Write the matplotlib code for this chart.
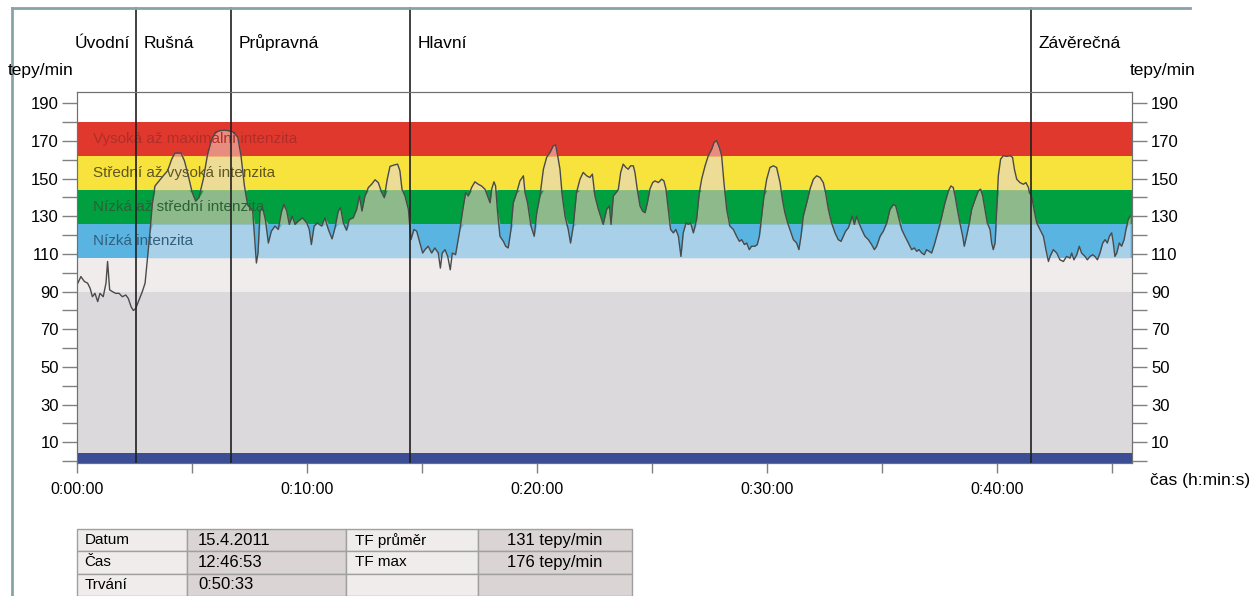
import numpy as np
import matplotlib.pyplot as plt
from matplotlib.ticker import FixedLocator, FuncFormatter
from matplotlib.lines import Line2D

plt.rcParams['font.family'] = ['Liberation Sans', 'DejaVu Sans']

# heart rate record, time in minutes
minutes = [0.0, 0.17, 0.32, 0.46, 0.57, 0.67, 0.78, 0.90, 1.00, 1.14, 1.26, 1.33, 1.42, 1.54, 1.68, 1.83,
           1.97, 2.12, 2.23, 2.35, 2.45, 2.55, 2.67, 2.84, 2.96, 3.07, 3.17, 3.28, 3.39, 3.57, 3.75, 3.94,
           4.12, 4.26, 4.52, 4.67, 4.84, 5.01, 5.16, 5.30, 5.49, 5.68, 5.86, 6.03, 6.22, 6.43, 6.61, 6.80,
           6.99, 7.13, 7.28, 7.42, 7.52, 7.64, 7.72, 7.80, 7.87, 7.96, 8.07, 8.19, 8.32, 8.45, 8.61, 8.75,
           8.90, 9.00, 9.12, 9.23, 9.36, 9.48, 9.62, 9.80, 9.99, 10.10, 10.19, 10.31, 10.45, 10.64, 10.78,
           10.93, 11.09, 11.22, 11.36, 11.46, 11.58, 11.72, 11.84, 12.01, 12.16, 12.28, 12.39, 12.52, 12.67,
           12.81, 12.96, 13.10, 13.25, 13.36, 13.49, 13.61, 13.78, 13.94, 14.04, 14.13, 14.26, 14.41, 14.52,
           14.65, 14.77, 14.91, 15.03, 15.13, 15.27, 15.42, 15.56, 15.71, 15.80, 15.88, 16.00, 16.12, 16.23,
           16.32, 16.46, 16.55, 16.65, 16.80, 16.90, 17.01, 17.16, 17.30, 17.45, 17.59, 17.74, 17.85, 17.96,
           18.03, 18.13, 18.20, 18.29, 18.39, 18.54, 18.64, 18.75, 18.87, 18.97, 19.12, 19.26, 19.41, 19.48,
           19.59, 19.74, 19.88, 19.99, 20.13, 20.28, 20.42, 20.57, 20.71, 20.81, 20.90, 21.00, 21.10, 21.22,
           21.36, 21.46, 21.58, 21.72, 21.87, 22.01, 22.16, 22.30, 22.41, 22.52, 22.67, 22.81, 22.88, 23.03,
           23.15, 23.22, 23.32, 23.44, 23.54, 23.64, 23.75, 23.87, 23.97, 24.07, 24.19, 24.26, 24.36, 24.48,
           24.59, 24.70, 24.80, 24.91, 25.03, 25.13, 25.28, 25.42, 25.52, 25.61, 25.71, 25.81, 25.93, 26.04,
           26.15, 26.26, 26.36, 26.48, 26.58, 26.68, 26.80, 26.94, 27.06, 27.16, 27.31, 27.45, 27.60, 27.70,
           27.81, 27.93, 28.03, 28.13, 28.25, 28.39, 28.54, 28.68, 28.80, 28.90, 29.02, 29.12, 29.23, 29.33,
           29.48, 29.58, 29.67, 29.77, 29.87, 29.99, 30.13, 30.28, 30.42, 30.57, 30.67, 30.78, 30.90, 31.00,
           31.15, 31.29, 31.39, 31.48, 31.58, 31.73, 31.87, 32.02, 32.16, 32.31, 32.45, 32.55, 32.67, 32.81,
           32.96, 33.10, 33.22, 33.32, 33.42, 33.54, 33.61, 33.71, 33.80, 33.90, 34.00, 34.12, 34.26, 34.41,
           34.55, 34.67, 34.77, 34.92, 35.06, 35.21, 35.35, 35.50, 35.60, 35.71, 35.86, 36.00, 36.15, 36.29,
           36.41, 36.51, 36.61, 36.73, 36.84, 36.94, 37.05, 37.16, 37.28, 37.42, 37.57, 37.74, 37.89, 38.00,
           38.10, 38.18, 38.28, 38.39, 38.51, 38.58, 38.68, 38.80, 38.90, 39.05, 39.19, 39.29, 39.38, 39.48,
           39.58, 39.70, 39.77, 39.84, 39.92, 39.99, 40.06, 40.16, 40.28, 40.42, 40.57, 40.68, 40.76, 40.86,
           41.00, 41.15, 41.26, 41.37, 41.41, 41.51, 41.61, 41.73, 41.87, 42.02, 42.13, 42.24, 42.31, 42.45,
           42.60, 42.74, 42.89, 43.03, 43.18, 43.25, 43.35, 43.47, 43.58, 43.68, 43.83, 43.93, 44.05, 44.16,
           44.26, 44.37, 44.48, 44.60, 44.70, 44.80, 44.89, 44.99, 45.06, 45.13, 45.21, 45.32, 45.42, 45.53,
           45.61, 45.71, 45.79]
bpm = [93.6, 98, 95.4, 94.5, 91.8, 87.3, 89.1, 84.7, 89.1, 87.3, 94.5, 106, 90.9, 90, 89.1, 89.1,
       87.3, 88.2, 86.4, 82, 80, 81, 84.7, 90, 94.5, 108.7, 121.2, 137.2, 146.1, 148.8, 151.5, 154.2,
       160.4, 163.6, 163.6, 159.5, 151.5, 142.6, 138.1, 139.9, 149.7, 163.1, 171.1, 174.7, 175.5, 175.7, 175.4, 174.7,
       172, 162.2, 146.1, 136, 134.6, 132.8, 119.4, 105.2, 110.5, 132.8, 134.6, 128.3, 115.8, 122.1, 124.8, 123,
       132.8, 136.3, 132.8, 125.7, 130.1, 125.7, 127.4, 129.2, 126.5, 123, 115, 124.8, 126.5, 124.8, 129.2,
       123, 118, 123.9, 132.8, 134.6, 126.5, 122.6, 128.3, 129.2, 133.7, 140.8, 132.8, 140.8, 145.3,
       147, 149.4, 147.9, 142.6, 139.9, 149.7, 156.5, 157.2, 157.7, 154.2, 144.4, 140.8, 133.7, 117.6,
       123, 122.1, 115.8, 110.5, 112.3, 114.1, 110.5, 113.2, 110.5, 102.5, 110.5, 112.3, 108.7, 101.6,
       110.5, 109.6, 115.8, 123, 135.5, 142.6, 140.8, 145.3, 148.3, 147, 146.1, 144.4, 140.8, 137.2,
       144.4, 148.3, 146.1, 131.9, 119.4, 116.7, 114.1, 113.2, 123, 137.2, 142.6, 148.8, 151.5, 142.6,
       137.2, 124.8, 119.4, 131.9, 140.8, 155, 161.3, 164, 167.5, 167.9, 162.2, 155, 140.8, 130.1,
       123, 115.8, 124.8, 142.6, 149.7, 153.3, 151.5, 150.6, 152.4, 140.8, 133.7, 128.3, 125.7, 133.7,
       135.5, 125.7, 140.8, 142.6, 144.4, 153.3, 157.7, 155.9, 155, 156.8, 156.8, 153.3, 144.4, 135.5,
       132.8, 131.9, 137.2, 144.4, 147.9, 148.8, 147.9, 149.7, 148.8, 144.4, 133.7, 123, 121.2, 123,
       119.4, 108.7, 121.2, 126.5, 125.7, 126.5, 121.2, 128.3, 142.6, 149.7, 156.8, 162.2, 165.7, 169.3,
       170.2, 166.6, 162.2, 147.9, 133.7, 124.8, 123, 119.4, 116.7, 117.6, 115, 115.8, 112.3, 114.1,
       114.1, 115, 119.4, 130.1, 140.8, 149.7, 155.9, 156.8, 155.9, 147.9, 139, 131.9, 126.5, 123,
       117.6, 115.8, 112.3, 119.4, 130.1, 137.2, 144.4, 149.7, 151.5, 150.6, 147.9, 142.6, 133.7, 126.5,
       121.2, 117.6, 116.7, 119.4, 122.1, 123.9, 126.5, 130.1, 125.7, 130.1, 126.5, 123, 119.4, 117.6,
       115, 112.3, 114.1, 119.4, 122.1, 126.5, 133.7, 136.3, 135.5, 130.1, 123, 119.4, 115.8, 112.3,
       113.2, 111.4, 112.3, 110.5, 109.6, 112.3, 111.4, 110.5, 115, 121.2, 128.3, 137.2, 143.5, 146.1,
       145.3, 140.8, 133.7, 126.5, 119.4, 114.1, 119.4, 126.5, 133.7, 139, 143.5, 144.4, 140.8, 133.7,
       126.5, 123, 115.8, 112.3, 115.8, 133.7, 151.5, 160.4, 162.2, 161.8, 162.2, 161.3, 155, 149.7,
       147.9, 147, 147.9, 145.3, 142.6, 140.8, 133.7, 126.5, 123, 119.4, 112.3, 106, 108.7, 112.3,
       110.5, 106.9, 106, 108.7, 107.8, 110.5, 106.9, 109.6, 114.1, 110.5, 108.7, 106.9, 108.7, 109.6,
       108.7, 106.9, 110.5, 115.8, 117.6, 115.8, 119.4, 121.2, 115.8, 108.7, 110.5, 115.8, 114.1, 117.6,
       123, 128.3, 130.1]

# intensity zones (bpm)
zone_lo = [0, 90, 108, 126, 144, 162]
zone_hi = [90, 108, 126, 144, 162, 180]
zone_colors = ['#dcd9dc', '#f1ecec', '#5ab4e2', '#00a040', '#f7e33b', '#e1382e']
zone_under = ['#dcd9dc', '#f1ecec', '#a8d0e8', '#8eb98a', '#eddc96', '#e88c80']
zone_names = ['', '', 'Nízká intenzita', 'Nízká až střední intenzita',
              'Střední až vysoká intenzita', 'Vysoká až maximální intenzita']
zone_text = ['', '', '#345f7c', '#2a6235', '#5f5622', '#b02e28']

phase_names = ['Úvodní', 'Rušná', 'Průpravná', 'Hlavní', 'Závěrečná']
phase_bounds = [2.57, 6.70, 14.48, 41.48]

y_major = list(range(10, 200, 20))
y_minor = list(range(0, 200, 20))
x_major = [0, 10, 20, 30, 40]
x_minor = [5, 15, 25, 35, 45]

table_rows = [['Datum', '15.4.2011', 'TF průměr', '131 tepy/min'],
              ['Čas', '12:46:53', 'TF max', '176 tepy/min'],
              ['Trvání', '0:50:33', '', '']]

W, H = 1256, 596
fig = plt.figure(figsize=(W / 100, H / 100), dpi=100)
ax = fig.add_axes([77 / W, 1 - 463 / H, (1131.7 - 77) / W, (463 - 92) / H])
ax.set_xlim(0, 45.86)
ax.set_ylim(-1, 196)

t = np.array(minutes)
hr = np.array(bpm)
for lo, hi, c, cu, name, tc in zip(zone_lo, zone_hi, zone_colors, zone_under, zone_names, zone_text):
    ax.axhspan(lo, hi, color=c, lw=0, zorder=1)
    if lo >= 108:
        ax.fill_between(t, lo, np.clip(hr, lo, hi), color=cu, lw=0, zorder=2)
    if name:
        ax.text(0.68, (lo + hi) / 2, name, color=tc, fontsize=11, va='center', ha='left', zorder=3)
ax.axhspan(-1, 4.5, color='#3a4d95', lw=0, zorder=3)
ax.plot(t, hr, color='#4a4a4a', lw=1.0, zorder=4)

# phase separators running up to the top border
top_frac = (463 - 8) / (463 - 92)
for b in phase_bounds:
    ax.axvline(b, ymin=0, ymax=top_frac, color='#202020', lw=1.2, clip_on=False, zorder=6)
lab_y = (463 - 43) / (463 - 92)
starts = [phase_bounds[0]] + phase_bounds
for i, name in enumerate(phase_names):
    if i == 0:
        ax.annotate(name, (starts[i], lab_y), xycoords=('data', 'axes fraction'), xytext=(-6, 0),
                    textcoords='offset pixels', ha='right', va='center', fontsize=12.5)
    else:
        ax.annotate(name, (starts[i], lab_y), xycoords=('data', 'axes fraction'), xytext=(8, 0),
                    textcoords='offset pixels', ha='left', va='center', fontsize=12.5)

for s in ax.spines.values():
    s.set_color('#707070')
ax.yaxis.set_major_locator(FixedLocator(y_major))
ax.yaxis.set_minor_locator(FixedLocator(y_minor))
ax.xaxis.set_major_locator(FixedLocator(x_major))
ax.xaxis.set_minor_locator(FixedLocator(x_minor))
ax.xaxis.set_major_formatter(FuncFormatter(lambda m, p: f"0:{int(m):02d}:00"))
ax.tick_params(axis='y', which='both', direction='out', length=11, width=1, color='#808080',
               labelsize=12, pad=2)
ax.tick_params(axis='x', which='both', direction='out', length=7, width=1, color='#808080',
               labelsize=11.5, pad=7)

ax2 = ax.twinx()
ax2.set_ylim(ax.get_ylim())
ax2.yaxis.set_major_locator(FixedLocator(y_major))
ax2.yaxis.set_minor_locator(FixedLocator(y_minor))
ax2.tick_params(axis='y', which='both', direction='out', length=11, width=1, color='#808080',
                labelsize=12, pad=3)
for s in ax2.spines.values():
    s.set_color('#707070')

fig.text(8 / W, 1 - 70 / H, 'tepy/min', fontsize=12.5, ha='left', va='center')
fig.text(1130 / W, 1 - 70 / H, 'tepy/min', fontsize=12.5, ha='left', va='center')
fig.text(1150 / W, 1 - 481 / H, 'čas (h:min:s)', fontsize=12.5, ha='left', va='center')

# outer frame lines
fig.add_artist(Line2D([12 / W, 1190 / W], [1 - 8 / H, 1 - 8 / H], color='#87a3a8', lw=2))
fig.add_artist(Line2D([12 / W, 12 / W], [1 - 8 / H, 0], color='#87a3a8', lw=2))

# info table
tax = fig.add_axes([77 / W, 0, 555 / W, 67 / H])
tax.axis('off')
widths = np.array([110, 159, 132, 154]) / 555
colours = [['#f0ecec', '#dad4d4', '#f0ecec', '#dad4d4']] * len(table_rows)
tbl = tax.table(cellText=table_rows, cellColours=colours, colWidths=widths, cellLoc='left',
                bbox=[0, 0, 1, 1])
tbl.auto_set_font_size(False)
for (r, c), cell in tbl.get_celld().items():
    cell.set_edgecolor('#a0a0a0')
    cell.set_linewidth(1)
    cell.get_text().set_fontsize(12 if c in (1, 3) else 11)
    cell.PAD = 0.07
    if c == 3:
        cell._loc = 'center'
        cell.get_text().set_ha('center')

fig.savefig('out.png', dpi=100)
